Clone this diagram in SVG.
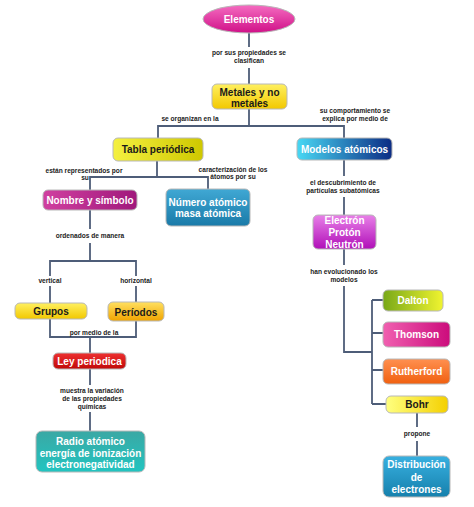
<svg xmlns="http://www.w3.org/2000/svg" width="474" height="507" viewBox="0 0 474 507">
<defs>
<linearGradient id="gPink" x1="0" y1="0" x2="0" y2="1"><stop offset="0" stop-color="#f46cc0"/><stop offset="1" stop-color="#d01088"/></linearGradient>
<linearGradient id="gYellow" x1="0" y1="0" x2="0" y2="1"><stop offset="0" stop-color="#fff060"/><stop offset="1" stop-color="#f2c800"/></linearGradient>
<linearGradient id="gOlive" x1="0" y1="0" x2="1" y2="0"><stop offset="0" stop-color="#f4f040"/><stop offset="1" stop-color="#cfc800"/></linearGradient>
<linearGradient id="gModel" x1="0" y1="0" x2="1" y2="0"><stop offset="0" stop-color="#48d8f4"/><stop offset="1" stop-color="#0c2c84"/></linearGradient>
<linearGradient id="gMag" x1="0" y1="0" x2="1" y2="0"><stop offset="0" stop-color="#d040a0"/><stop offset="1" stop-color="#a0187c"/></linearGradient>
<linearGradient id="gBlue" x1="0" y1="0" x2="0" y2="1"><stop offset="0" stop-color="#40a8d4"/><stop offset="1" stop-color="#1a7aa8"/></linearGradient>
<linearGradient id="gPer" x1="0" y1="0" x2="0" y2="1"><stop offset="0" stop-color="#ffe060"/><stop offset="1" stop-color="#f0a400"/></linearGradient>
<linearGradient id="gRed" x1="0" y1="0" x2="0" y2="1"><stop offset="0" stop-color="#ee3030"/><stop offset="1" stop-color="#c00808"/></linearGradient>
<linearGradient id="gTeal" x1="0" y1="0" x2="0" y2="1"><stop offset="0" stop-color="#3aa8a4"/><stop offset="1" stop-color="#22c4c0"/></linearGradient>
<linearGradient id="gPurple" x1="0" y1="0" x2="0" y2="1"><stop offset="0" stop-color="#e880e8"/><stop offset="1" stop-color="#b010b8"/></linearGradient>
<linearGradient id="gGreen" x1="0" y1="0" x2="1" y2="0"><stop offset="0" stop-color="#78a818"/><stop offset="1" stop-color="#f0f430"/></linearGradient>
<linearGradient id="gThom" x1="0" y1="0" x2="1" y2="0"><stop offset="0" stop-color="#f060b0"/><stop offset="1" stop-color="#cc0c7c"/></linearGradient>
<linearGradient id="gOrange" x1="0" y1="0" x2="0" y2="1"><stop offset="0" stop-color="#ff9050"/><stop offset="1" stop-color="#f06010"/></linearGradient>
<linearGradient id="gBohr" x1="0" y1="0" x2="1" y2="0"><stop offset="0" stop-color="#ffff80"/><stop offset="1" stop-color="#f4d000"/></linearGradient>
<linearGradient id="gDist" x1="0" y1="0" x2="0" y2="1"><stop offset="0" stop-color="#38b0e0"/><stop offset="1" stop-color="#1680ac"/></linearGradient>
</defs>
<style>
.box{stroke:#b8b8b8;stroke-width:1}
.nt{font-family:"Liberation Sans",Arial,sans-serif;font-weight:bold;font-size:10px;text-anchor:middle;fill:#ffffff}
.dk{fill:#1a1a1a}
.lb{font-family:"Liberation Sans",Arial,sans-serif;font-weight:bold;font-size:6.6px;text-anchor:middle;fill:#222222}
.cn{fill:none;stroke:#4e5d78;stroke-width:1.8}
</style>
<g id="connectors">
<path class="cn" d="M249,33 V47 M249,68 V84"/>
<path class="cn" d="M249,109 V126 M158,138 V126 H344 V138"/>
<path class="cn" d="M157,161 V177 M90,190 V177 H208 V189"/>
<path class="cn" d="M90,210 V229 M90,243 V261 M50,276 V261 H136 V276 M50,286 V303 M136,286 V302"/>
<path class="cn" d="M50,319 V337 H136 V321 M90,337 V353"/>
<path class="cn" d="M90,369 V385 M90,412 V431"/>
<path class="cn" d="M344,160 V176 M344,197 V215"/>
<path class="cn" d="M344,249 V265 M344,286 V352 H372 M372,300 V404 M372,300 H383 M372,333 H383 M372,370 H383 M372,404 H386"/>
<path class="cn" d="M417,413 V427 M417,441 V456"/>
</g>
<g id="labels">
<text class="lb" x="249" y="55">por sus propiedades se</text>
<text class="lb" x="249" y="63">clasifican</text>
<text class="lb" x="190" y="121">se organizan en la</text>
<text class="lb" x="355" y="113">su comportamiento se</text>
<text class="lb" x="355" y="121">explica por medio de</text>
<text class="lb" x="84" y="173">están representados por</text>
<text class="lb" x="85" y="180">su</text>
<text class="lb" x="233" y="172">caracterización de los</text>
<text class="lb" x="233" y="179">átomos por su</text>
<text class="lb" x="90" y="238">ordenados de manera</text>
<text class="lb" x="50" y="283">vertical</text>
<text class="lb" x="136" y="283">horizontal</text>
<text class="lb" x="94" y="335">por medio de la</text>
<text class="lb" x="92" y="393">muestra la variación</text>
<text class="lb" x="92" y="401">de las propiedades</text>
<text class="lb" x="92" y="409">químicas</text>
<text class="lb" x="343" y="185">el descubrimiento de</text>
<text class="lb" x="343" y="193">partículas subatómicas</text>
<text class="lb" x="344" y="274">han evolucionado los</text>
<text class="lb" x="344" y="282">modelos</text>
<text class="lb" x="417" y="436">propone</text>
</g>
<g id="elementos"><ellipse class="box" cx="249" cy="19" rx="46" ry="14" fill="url(#gPink)"/><text class="nt" x="249" y="22.5">Elementos</text></g>
<g id="metales"><rect class="box" x="212" y="84" width="75" height="25" rx="5" fill="url(#gYellow)"/><text class="nt dk" x="249.5" y="95.5">Metales y no</text><text class="nt dk" x="249.5" y="106.5">metales</text></g>
<g id="tabla"><rect class="box" x="113" y="138" width="90" height="23" rx="5" fill="url(#gOlive)"/><text class="nt dk" x="158" y="153">Tabla periódica</text></g>
<g id="modelos"><rect class="box" x="297" y="138" width="95" height="22" rx="5" fill="url(#gModel)"/><text class="nt" x="344.5" y="152.5">Modelos atómicos</text></g>
<g id="nombre"><rect class="box" x="43" y="190" width="94" height="20" rx="5" fill="url(#gMag)"/><text class="nt" x="90" y="203.5">Nombre y símbolo</text></g>
<g id="numero"><rect class="box" x="166" y="189" width="84" height="37" rx="5" fill="url(#gBlue)"/><text class="nt" x="208" y="205.5">Número atómico</text><text class="nt" x="208" y="216.5">masa atómica</text></g>
<g id="grupos"><rect class="box" x="15" y="303" width="72" height="16" rx="5" fill="url(#gYellow)"/><text class="nt dk" x="51" y="314.5">Grupos</text></g>
<g id="periodos"><rect class="box" x="108" y="302" width="56" height="19" rx="5" fill="url(#gPer)"/><text class="nt dk" x="136" y="315.5">Períodos</text></g>
<g id="ley"><rect class="box" x="53" y="353" width="73" height="16" rx="5" fill="url(#gRed)"/><text class="nt" x="89.5" y="364.5">Ley periodica</text></g>
<g id="radio"><rect class="box" x="36" y="431" width="109" height="41" rx="6" fill="url(#gTeal)"/><text class="nt" x="90.5" y="444.5">Radio atómico</text><text class="nt" x="90.5" y="456.5">energía de ionización</text><text class="nt" x="90.5" y="467.5">electronegatividad</text></g>
<g id="electron"><rect class="box" x="313" y="215" width="63" height="34" rx="5" fill="url(#gPurple)"/><text class="nt" x="344.5" y="223.5" fill="#f8d8f8">Electrón</text><text class="nt" x="344.5" y="235.5" fill="#f8d8f8">Protón</text><text class="nt" x="344.5" y="248" fill="#f8d8f8">Neutrón</text></g>
<g id="dalton"><rect class="box" x="383" y="290" width="60" height="21" rx="5" fill="url(#gGreen)"/><text class="nt" x="413" y="303.5">Dalton</text></g>
<g id="thomson"><rect class="box" x="383" y="322" width="67" height="25" rx="5" fill="url(#gThom)"/><text class="nt" x="416.5" y="338">Thomson</text></g>
<g id="rutherford"><rect class="box" x="383" y="359" width="67" height="25" rx="5" fill="url(#gOrange)"/><text class="nt" x="416.5" y="375">Rutherford</text></g>
<g id="bohr"><rect class="box" x="386" y="396" width="62" height="17" rx="5" fill="url(#gBohr)"/><text class="nt dk" x="417" y="408">Bohr</text></g>
<g id="distribucion"><rect class="box" x="383" y="456" width="67" height="41" rx="6" fill="url(#gDist)"/><text class="nt" x="416.5" y="467.5">Distribución</text><text class="nt" x="416.5" y="480.5">de</text><text class="nt" x="416.5" y="492.5">electrones</text></g>
</svg>
